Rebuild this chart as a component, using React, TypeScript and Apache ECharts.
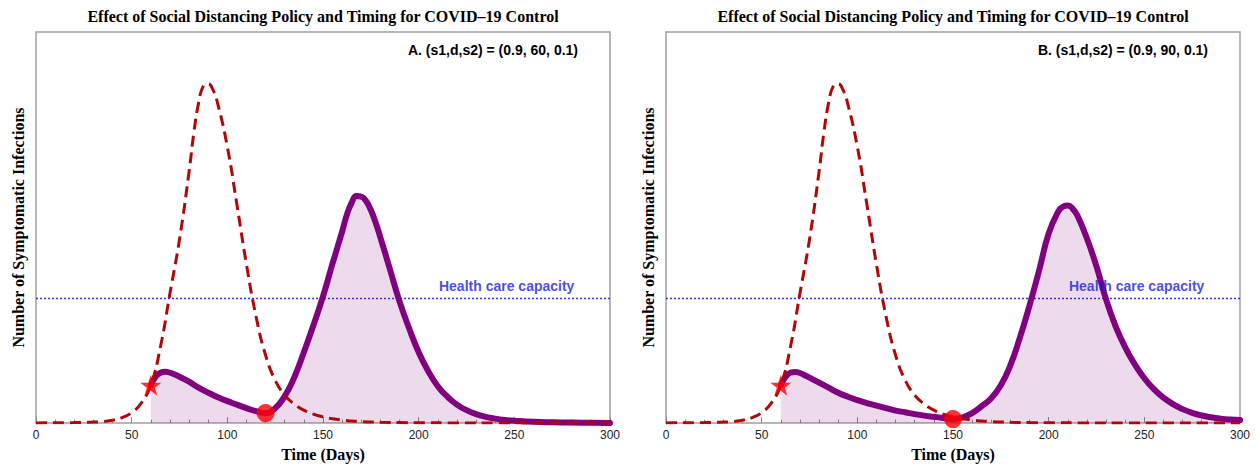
import React, { useEffect, useRef } from "react";
import * as echarts from "echarts";

const TITLE = "Effect of Social Distancing Policy and Timing for COVID–19 Control";
const PANEL_LABELS = ["A. (s1,d,s2) = (0.9, 60, 0.1)", "B. (s1,d,s2) = (0.9, 90, 0.1)"];
const X_NAME = "Time (Days)";
const Y_NAME = "Number of Symptomatic Infections";
const CAPACITY_TEXT = "Health care capacity";
const X_MIN = 0;
const X_MAX = 300;
const X_INTERVAL = 50;
const Y_MAX = 392;
const CAPACITY = 125;

// Unmitigated epidemic (dashed red), same in both panels
const noControlDays = [0, 5, 10, 15, 20, 25, 30, 35, 40, 45, 50, 55, 60, 65, 70, 75, 80, 82.5, 85, 87.5, 90, 92.5, 95, 100, 105, 110, 115, 120, 125, 130, 135, 140, 145, 150, 155, 160, 165, 170, 175, 180, 190, 200, 220, 240, 260, 280, 300];
const noControlValues = [0.2, 0.25, 0.3, 0.4, 0.5, 0.7, 1.0, 1.6, 2.8, 5.5, 10.5, 20, 38, 76, 130, 184, 252, 291, 321, 338, 340, 334, 320, 277, 219, 159, 107, 68, 43, 28, 19, 13, 9, 6.2, 4.3, 3, 2.1, 1.5, 1.1, 0.8, 0.5, 0.35, 0.2, 0.15, 0.1, 0.1, 0.1];

// Panel A: distancing from day 60 for 60 days
const policyADays = [60, 62.5, 65, 67.5, 70, 72.5, 75, 80, 85, 90, 95, 100, 105, 110, 115, 120, 125, 130, 135, 140, 145, 150, 155, 160, 162.5, 165, 167.5, 170, 172.5, 175, 177.5, 180, 185, 190, 195, 200, 205, 210, 215, 220, 225, 230, 235, 240, 245, 250, 260, 270, 280, 290, 300];
const policyAValues = [38, 46.5, 50.5, 51.5, 50.5, 48.7, 46.5, 41.5, 35.5, 30.5, 26, 22, 18.5, 15, 12, 10, 15, 27, 46, 71, 98, 127, 160, 192, 209, 221, 227.5, 227, 222.5, 213.5, 201, 186, 154, 122, 95, 71, 52, 37, 26.5, 18.5, 13, 9, 6.3, 4.5, 3.2, 2.4, 1.3, 0.8, 0.5, 0.3, 0.2];

// Panel B: distancing from day 60 for 90 days
const policyBDays = [60, 62.5, 65, 67.5, 70, 72.5, 75, 80, 85, 90, 95, 100, 105, 110, 115, 120, 125, 130, 135, 140, 145, 150, 155, 160, 165, 170, 175, 180, 185, 190, 195, 200, 205, 207.5, 210, 212.5, 215, 220, 225, 230, 235, 240, 245, 250, 255, 260, 265, 270, 275, 280, 285, 290, 295, 300];
const policyBValues = [38, 46.5, 50.5, 51.3, 50.2, 48, 45.5, 40.5, 35.5, 30.5, 26.5, 23, 20, 17.5, 15, 12.5, 10.8, 9, 7.5, 6.3, 5.2, 4, 5.8, 10, 17, 25, 38, 58, 86, 118, 153, 190, 212, 217, 218, 215, 208, 185, 157, 124, 97, 76, 59, 45, 34, 25.5, 19, 14, 10.3, 7.6, 5.8, 4.5, 3.6, 3];

const startPoints = [[60, 38], [60, 38]];
const endPoints = [[120, 10], [150, 4]];

const STAR = "path://M50,0 L61.2,34.5 L97.6,34.5 L68.2,55.9 L79.4,90.5 L50,69.1 L20.6,90.5 L31.8,55.9 L2.4,34.5 L38.8,34.5 Z";

const zip = (xs: number[], ys: number[]) => xs.map((x, i) => [x, ys[i]]);

export default function App() {
  const ref = useRef<HTMLDivElement>(null);
  useEffect(() => {
    if (!ref.current) return;
    const chart = echarts.init(ref.current, null, { renderer: "svg" });
    const panels = [
      { left: 36, days: policyADays, values: policyAValues, label: PANEL_LABELS[0] },
      { left: 666, days: policyBDays, values: policyBValues, label: PANEL_LABELS[1] },
    ];
    const W = 1257;
    const gridW = 574;
    const serif = "Liberation Serif";
    const sans = "Liberation Sans";

    const grids: any[] = [];
    const xAxes: any[] = [];
    const yAxes: any[] = [];
    const series: any[] = [];
    const titles: any[] = [];

    panels.forEach((p, i) => {
      grids.push({
        left: p.left,
        top: 32,
        width: gridW,
        height: 392,
        show: true,
        borderColor: "#a0a0a0",
        borderWidth: 1.5,
        backgroundColor: "transparent",
      });
      xAxes.push({
        type: "value",
        gridIndex: i,
        min: X_MIN,
        max: X_MAX,
        interval: X_INTERVAL,
        name: X_NAME,
        nameLocation: "middle",
        nameGap: 19,
        nameTextStyle: { fontFamily: serif, fontWeight: "bold", fontSize: 16, color: "#000" },
        axisLine: { show: false },
        axisTick: { show: true, inside: true, length: 6, lineStyle: { color: "#888", width: 1 } },
        minorTick: { show: true, splitNumber: 5, length: 3.5, lineStyle: { color: "#888", width: 1 } },
        splitLine: { show: false },
        axisLabel: { fontFamily: sans, fontSize: 12, color: "#222", margin: 6 },
      });
      yAxes.push({
        type: "value",
        gridIndex: i,
        min: 0,
        max: Y_MAX,
        name: Y_NAME,
        nameLocation: "middle",
        nameGap: 10,
        nameTextStyle: { fontFamily: serif, fontWeight: "bold", fontSize: 16, color: "#000" },
        axisLine: { show: false },
        axisTick: { show: false },
        axisLabel: { show: false },
        splitLine: { show: false },
      });
      titles.push({
        text: TITLE,
        left: p.left + gridW / 2 - 5,
        top: 3,
        textAlign: "center",
        textStyle: { fontFamily: serif, fontWeight: "bold", fontSize: 16, color: "#000" },
      });
      titles.push({
        text: p.label,
        right: W - (p.left + gridW - 32) - 5,
        top: 38,
        textStyle: { fontFamily: sans, fontWeight: "bold", fontSize: 14, color: "#000" },
      });

      series.push({
        type: "line",
        xAxisIndex: i,
        yAxisIndex: i,
        data: [[X_MIN, CAPACITY], [X_MAX, CAPACITY]],
        showSymbol: false,
        silent: true,
        z: 1,
        lineStyle: { color: "#3030ff", width: 1.5, type: [2, 2] },
      });
      series.push({
        type: "scatter",
        xAxisIndex: i,
        yAxisIndex: i,
        data: [[246, CAPACITY]],
        symbolSize: 0,
        silent: true,
        z: 6,
        label: {
          show: true,
          position: "top",
          distance: 5,
          formatter: CAPACITY_TEXT,
          fontFamily: sans,
          fontWeight: "bold",
          fontSize: 14,
          color: "#1c1cd8",
        },
      });
      series.push({
        type: "line",
        xAxisIndex: i,
        yAxisIndex: i,
        data: zip(p.days, p.values),
        smooth: true,
        showSymbol: false,
        silent: true,
        z: 2,
        lineStyle: { color: "#800080", width: 6, cap: "round", join: "round" },
        areaStyle: { color: "rgba(128,0,128,0.2)", origin: "start" },
      });
      series.push({
        type: "line",
        xAxisIndex: i,
        yAxisIndex: i,
        data: zip(noControlDays, noControlValues),
        smooth: true,
        showSymbol: false,
        silent: true,
        z: 3,
        lineStyle: { color: "#b00808", width: 3, type: [11, 6] },
      });
      series.push({
        type: "scatter",
        xAxisIndex: i,
        yAxisIndex: i,
        data: [startPoints[i]],
        symbol: STAR,
        symbolSize: 21,
        silent: true,
        z: 5,
        itemStyle: { color: "#ff0000" },
      });
      series.push({
        type: "scatter",
        xAxisIndex: i,
        yAxisIndex: i,
        data: [endPoints[i]],
        symbol: "circle",
        symbolSize: 18,
        silent: true,
        z: 5,
        itemStyle: { color: "#ff0000" },
      });
    });

    chart.setOption({
      animation: false,
      backgroundColor: "#fff",
      title: titles,
      grid: grids,
      xAxis: xAxes,
      yAxis: yAxes,
      series,
    });
    return () => chart.dispose();
  }, []);
  return (
    <div
      ref={ref}
      style={{ position: "absolute", left: 0, top: 0, width: 1257, height: 467 }}
    />
  );
}
